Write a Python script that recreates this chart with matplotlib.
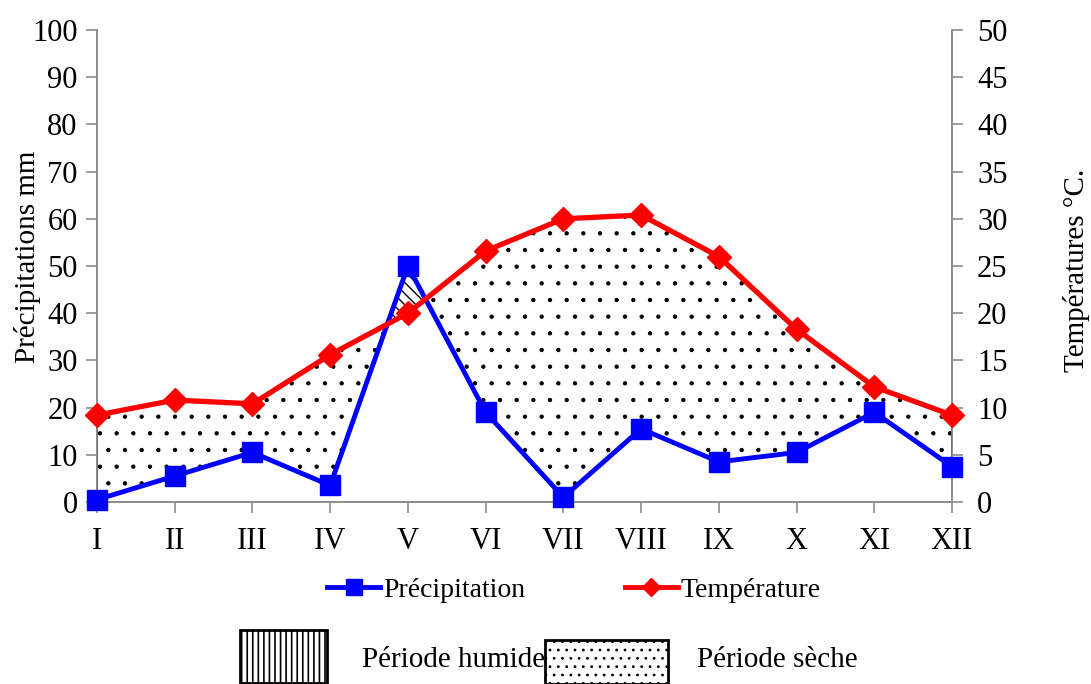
import numpy as np
import matplotlib
matplotlib.use("Agg")
import matplotlib.pyplot as plt
from matplotlib.patches import Rectangle
from matplotlib.lines import Line2D

plt.rcParams['font.family'] = ['Liberation Serif', 'DejaVu Serif']

# Données climatiques
mois = ['I', 'II', 'III', 'IV', 'V', 'VI', 'VII', 'VIII', 'IX', 'X', 'XI', 'XII']
precipitations = [0.5, 5.5, 10.5, 3.5, 50.0, 19.0, 1.0, 15.5, 8.5, 10.5, 19.0, 7.5]
temperatures = [9.2, 10.8, 10.4, 15.6, 20.0, 26.6, 30.0, 30.4, 26.0, 18.3, 12.2, 9.2]

x = np.arange(len(mois))
P = np.array(precipitations)
T2 = 2 * np.array(temperatures)  # échelle P = 2T (axe de droite)

fig = plt.figure(figsize=(10.91, 6.84), dpi=100)
ax = fig.add_axes([0.0889, 0.2661, 0.7837, 0.69])
ax2 = ax.twinx()

gris = '#8c8c8c'

# zones sèche / humide (points fins)
plt.rcParams['hatch.linewidth'] = 0.7
ax.fill_between(x, P, T2, where=T2 >= P, interpolate=True, facecolor='white',
                edgecolor='black', hatch='.', linewidth=1.5, zorder=1)
plt.rcParams['hatch.linewidth'] = 1.0
ax.fill_between(x, P, T2, where=P >= T2, interpolate=True, facecolor='white',
                edgecolor='black', hatch='\\\\\\', linewidth=1.5, zorder=1)

ax.plot(x, P, color='#0000ff', lw=3.5, marker='s', ms=14, zorder=3, clip_on=False)
ax.plot(x, T2, color='#ff0000', lw=3.8, marker='D', ms=12, zorder=4, clip_on=False)

ax.set_xlim(0, 11)
ax.set_ylim(0, 100)
ax2.set_ylim(0, 50)
ax.set_xticks(x)
ax.set_xticklabels(mois)
ax.set_yticks(np.arange(0, 101, 10))
ax2.set_yticks(np.arange(0, 51, 5))

for a in (ax, ax2):
    for s in a.spines.values():
        s.set_color(gris)
        s.set_linewidth(1.2)
    a.spines['top'].set_visible(False)
    a.tick_params(colors=gris, labelcolor='black', labelsize=22, length=8, width=1.2)
ax.tick_params(axis='y', pad=6)
ax.tick_params(axis='x', pad=10)
ax2.tick_params(axis='y', pad=10)
ax.set_zorder(ax2.get_zorder() + 1)
ax.patch.set_visible(False)

ax.set_ylabel('Précipitations mm', fontsize=21)
ax.yaxis.set_label_coords(-0.066, 0.52)
ax2.set_ylabel('Températures °C.', fontsize=21)
ax2.yaxis.set_label_coords(1.13, 0.49)

# légende ligne 1
fig.legend(handles=[Line2D([], [], color='#0000ff', lw=3.5, marker='s', ms=11),
                    Line2D([], [], color='#ff0000', lw=3.5, marker='D', ms=9)],
           labels=['Précipitation', 'Température'], loc='center',
           bbox_to_anchor=(0.526, 0.137), ncol=2, frameon=False, fontsize=20,
           handlelength=1.9, handletextpad=0.1, columnspacing=3.6)

# légende ligne 2
plt.rcParams['hatch.linewidth'] = 1.2
fig.patches.append(Rectangle((240 / 1091, 1 - 683 / 684), 87 / 1091, 53 / 684,
                             transform=fig.transFigure, facecolor='white',
                             edgecolor='black', hatch='|||', lw=2))
fig.text(362 / 1091, 1 - 660 / 684, 'Période humide', fontsize=21, va='center')
plt.rcParams['hatch.linewidth'] = 0.8
fig.patches.append(Rectangle((545 / 1091, 1 - 684 / 684), 123 / 1091, 44 / 684,
                             transform=fig.transFigure, facecolor='white',
                             edgecolor='black', hatch='..', lw=2, zorder=5))
fig.text(697 / 1091, 1 - 660 / 684, 'Période sèche', fontsize=21, va='center')

fig.savefig('out.png', dpi=100)
